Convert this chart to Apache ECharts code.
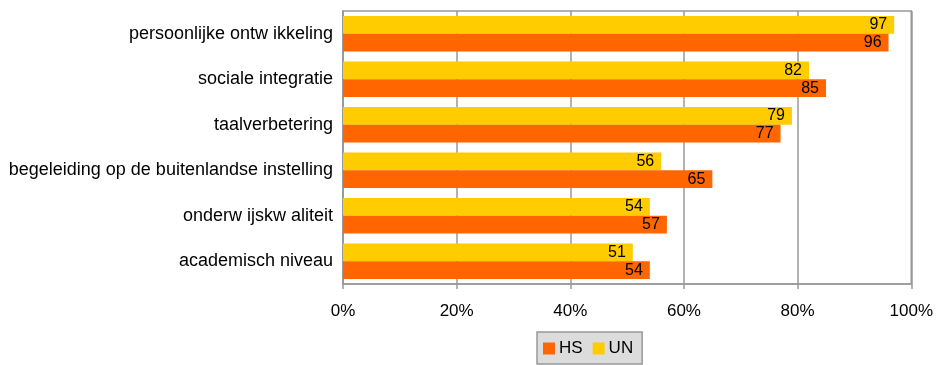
<!DOCTYPE html>
<html><head><meta charset="utf-8">
<script src="https://cdn.jsdelivr.net/npm/echarts@6/dist/echarts.min.js"></script>
<style>html,body{margin:0;padding:0;background:#fff}#c{width:936px;height:365px}</style>
</head><body><div id="c"></div>
<script>
const categories = ['persoonlijke ontw ikkeling','sociale integratie','taalverbetering','begeleiding op de buitenlandse instelling','onderw ijskw aliteit','academisch niveau'];
const unValues = [97, 82, 79, 56, 54, 51];
const hsValues = [96, 85, 77, 65, 57, 54];
const xTicks = [0, 20, 40, 60, 80, 100];

const font = 'Liberation Sans, Arial, sans-serif';
const chart = echarts.init(document.getElementById('c'), null, {renderer:'canvas'});
const lbl = {show:true, position:'insideRight', color:'#000', fontSize:16, fontFamily:font, distance:7, formatter:p=>p.value};
chart.setOption({
  animation:false,
  grid:{left:343, right:24, top:11, bottom:81, containLabel:false, show:true, borderColor:'#999', borderWidth:1.5},
  legend:{data:['HS','UN'], bottom:1, left:537, backgroundColor:'#dcdcdc', borderColor:'#999', borderWidth:1.5, borderRadius:0,
    padding:[8,9,7,6], itemGap:10, icon:'rect', itemWidth:12, itemHeight:12,
    textStyle:{fontFamily:font, fontSize:17, color:'#000', padding:[0,0,0,-1]}},
  xAxis:{type:'value', min:0, max:100, interval:20,
    axisLine:{show:true, lineStyle:{color:'#999', width:1.5}},
    axisTick:{show:true, length:5, lineStyle:{color:'#999', width:1.5}},
    splitLine:{show:true, lineStyle:{color:'#999', width:1.5}},
    axisLabel:{fontFamily:font, fontSize:17, color:'#000', margin:19, formatter:v=>v+'%'}},
  yAxis:{type:'category', data:categories, inverse:true,
    axisLine:{show:true, lineStyle:{color:'#999', width:1.5}},
    axisTick:{show:false},
    axisLabel:{fontFamily:font, fontSize:18, color:'#000', margin:10}},
  series:[
    {name:'UN', type:'bar', data:unValues, itemStyle:{color:'#ffcc00'}, barGap:'0%', barCategoryGap:'22%', label:lbl},
    {name:'HS', type:'bar', data:hsValues, itemStyle:{color:'#ff6600'}, barGap:'0%', barCategoryGap:'22%', label:lbl}
  ]
});
</script></body></html>
